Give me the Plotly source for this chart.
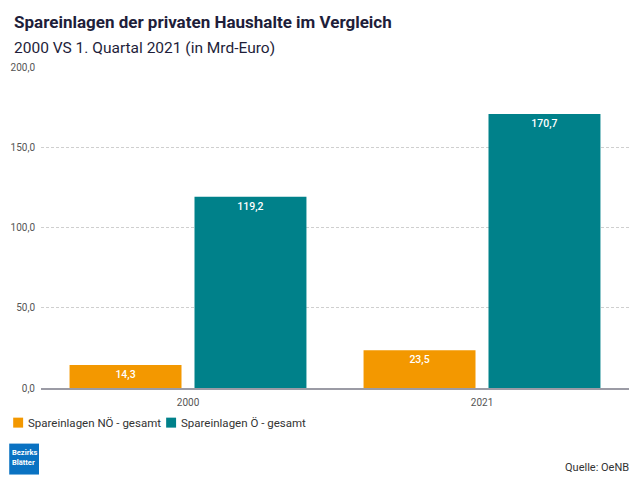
import plotly.graph_objects as go

categories = ["2000", "2021"]
series_names = ["Spareinlagen NÖ - gesamt", "Spareinlagen Ö - gesamt"]
noe_values = [14.3, 23.5]
oe_values = [119.2, 170.7]
colors = ["#F39800", "#00818A"]
y_ticks = [0, 50, 100, 150, 200]
y_tick_labels = ["0,0", "50,0", "100,0", "150,0", "200,0"]

W, H = 640, 480
L, R, T, B = 37, 11, 66.7, 91.7

def fmt(v):
    return f"{v:.1f}".replace(".", ",")

fig = go.Figure()
for name, vals, col in zip(series_names, [noe_values, oe_values], colors):
    fig.add_trace(go.Bar(
        x=categories, y=vals, name=name,
        marker=dict(color=col, line=dict(width=0)),
        text=[fmt(v) for v in vals],
        textposition="inside", insidetextanchor="end",
        textfont=dict(family="Roboto", size=10.5, color="white", weight=500),
        textangle=0, showlegend=False,
        hoverinfo="skip",
    ))

fig.update_layout(
    width=W, height=H,
    margin=dict(l=L, r=R, t=T, b=B, pad=0),
    paper_bgcolor="white", plot_bgcolor="white",
    barmode="group", bargap=0.15, bargroupgap=0.104,
    font=dict(family="Roboto", color="#555555"),
    xaxis=dict(type="category", showgrid=False, showline=True,
               linecolor="#9B9BA5", linewidth=2, ticks="",
               tickfont=dict(size=10, color="#555555"), ticklabelstandoff=4),
    yaxis=dict(range=[0, 200], tickvals=y_ticks, ticktext=y_tick_labels,
               showgrid=True, gridcolor="#CFCFCF", griddash="3px,2px",
               gridwidth=1, zeroline=False, showline=False, ticks="",
               tickfont=dict(size=10, color="#555555"), ticklabelstandoff=5),
    showlegend=False,
)

pw = W - L - R
ph = H - T - B
def px_x(px):
    return (px - L) / pw
def px_y(py):
    return (H - B - py) / ph

# Titles
fig.add_annotation(text="<b>Spareinlagen der privaten Haushalte im Vergleich</b>",
                   xref="paper", yref="paper", x=px_x(8), y=px_y(10),
                   xanchor="left", yanchor="top", showarrow=False,
                   font=dict(family="Roboto", size=17, color="#1E1E3A"))
fig.add_annotation(text="2000 VS 1. Quartal 2021 (in Mrd-Euro)",
                   xref="paper", yref="paper", x=px_x(8), y=px_y(37),
                   xanchor="left", yanchor="top", showarrow=False,
                   font=dict(family="Roboto", size=15.5, color="#1E1E3A"))

# Manual legend
leg_x = [9, 163]
for name, col, lx in zip(series_names, colors, leg_x):
    fig.add_shape(type="rect", xref="paper", yref="paper",
                  x0=px_x(lx), x1=px_x(lx + 10), y0=px_y(428), y1=px_y(418),
                  fillcolor=col, line=dict(width=0))
    fig.add_annotation(text=name, xref="paper", yref="paper",
                       x=px_x(lx + 13), y=px_y(423), xanchor="left", yanchor="middle",
                       showarrow=False,
                       font=dict(family="Roboto", size=11.5, color="#333333"))

# Logo
fig.add_shape(type="rect", xref="paper", yref="paper",
              x0=px_x(5), x1=px_x(35), y0=px_y(475), y1=px_y(444),
              fillcolor="#0A72C2", line=dict(width=0))
fig.add_annotation(text="<b>Bezirks<br>Blätter</b>", xref="paper", yref="paper",
                   x=px_x(6), y=px_y(446), xanchor="left", yanchor="top", align="left",
                   showarrow=False, font=dict(family="Liberation Sans Narrow, Roboto", size=7.5, color="white"))

# Source
fig.add_annotation(text="Quelle: OeNB", xref="paper", yref="paper",
                   x=px_x(631), y=px_y(468), xanchor="right", yanchor="middle",
                   showarrow=False, font=dict(family="Roboto", size=11, color="#333333"))

fig.write_html("out.html", config={"displayModeBar": False},
               post_script="document.body.style.margin='0';document.body.style.overflow='hidden';")
